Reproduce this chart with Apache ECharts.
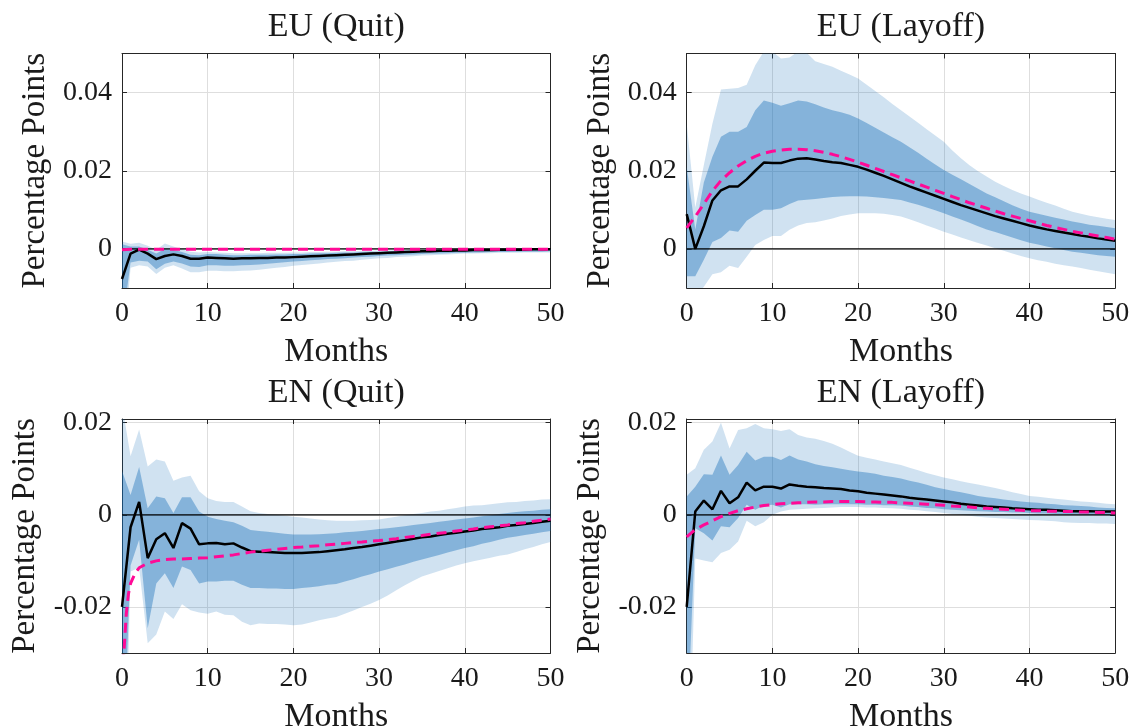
<!DOCTYPE html>
<html><head><meta charset="utf-8">
<script src="https://cdn.jsdelivr.net/npm/echarts@6/dist/echarts.min.js"></script>
<style>html,body{margin:0;padding:0;background:#fff}#c{width:1133px;height:727px}</style>
</head><body><div id="c"></div>
<script>
// ---------- data ----------
const months = [0,1,2,3,4,5,6,7,8,9,10,11,12,13,14,15,16,17,18,19,20,21,22,23,24,25,26,27,28,29,30,31,32,33,34,35,36,37,38,39,40,41,42,43,44,45,46,47,48,49,50];
const titles = ['EU (Quit)', 'EU (Layoff)', 'EN (Quit)', 'EN (Layoff)'];
const topTicks = [0, 0.02, 0.04];
const bottomTicks = [-0.02, 0, 0.02];
const zeroLevel = 0;

// EU (Quit)
const euQuitMed = [-0.0077,-0.0012,-0.0002,-0.0012,-0.0026,-0.0018,-0.0014,-0.0018,-0.0025,-0.0025,
 -0.0022,-0.0023,-0.0024,-0.0025,-0.0024,-0.0024,-0.0023,-0.0023,-0.0022,-0.0022,
 -0.0021,-0.0020,-0.0019,-0.0018,-0.0017,-0.0016,-0.0015,-0.0014,-0.0013,-0.0012,
 -0.0011,-0.0010,-0.0009,-0.0008,-0.0007,-0.0006,-0.0006,-0.0005,-0.0005,-0.0004,
 -0.0004,-0.0003,-0.0003,-0.0003,-0.0002,-0.0002,-0.0002,-0.0002,-0.0001,-0.0001,-0.0001];
const euQuitModel = [-0.0002,-0.0001,-0.0001,-0.0001,-0.0001,-0.0001,-0.0001,-0.0001,-0.0001,-0.0001,
 -0.0001,-0.0001,-0.0001,-0.0001,-0.0001,-0.0001,-0.0001,-0.0001,-0.0001,-0.0001,
 -0.0001,-0.0001,-0.0001,-0.0001,-0.0001,-0.0001,-0.0001,-0.0001,-0.0001,-0.0001,
 -0.0001,-0.0001,-0.0001,-0.0001,-0.0001,-0.0001,-0.0001,-0.0001,-0.0001,-0.0001,
 -0.0001,-0.0001,-0.0001,-0.0001,-0.0001,-0.0001,-0.0001,-0.0001,-0.0001,-0.0001,-0.0001];
const euQuitInHi = [0.0012,0.0006,0.0006,-0.0002,-0.0012,0.0000,-0.0003,-0.0008,-0.0015,-0.0016,
 -0.0013,-0.0013,-0.0015,-0.0016,-0.0016,-0.0015,-0.0015,-0.0015,-0.0014,-0.0014,
 -0.0013,-0.0013,-0.0012,-0.0011,-0.0011,-0.0010,-0.0009,-0.0009,-0.0008,-0.0007,
 -0.0007,-0.0006,-0.0005,-0.0005,-0.0004,-0.0004,-0.0003,-0.0003,-0.0002,-0.0002,
 -0.0002,-0.0001,-0.0001,-0.0001,-0.0001,-0.0001,0.0000,0.0000,0.0000,0.0000,0.0000];
const euQuitInLo = [-0.0200,-0.0035,-0.0030,-0.0032,-0.0052,-0.0038,-0.0032,-0.0037,-0.0045,-0.0046,
 -0.0042,-0.0042,-0.0043,-0.0043,-0.0042,-0.0041,-0.0040,-0.0038,-0.0036,-0.0034,
 -0.0032,-0.0031,-0.0029,-0.0028,-0.0026,-0.0025,-0.0024,-0.0022,-0.0021,-0.0020,
 -0.0018,-0.0017,-0.0016,-0.0015,-0.0014,-0.0013,-0.0012,-0.0012,-0.0011,-0.0010,
 -0.0010,-0.0009,-0.0009,-0.0008,-0.0008,-0.0008,-0.0007,-0.0007,-0.0007,-0.0007,-0.0006];
const euQuitOutHi = [0.0019,0.0013,0.0016,0.0008,-0.0002,0.0014,0.0006,-0.0001,-0.0007,-0.0009,
 -0.0008,-0.0009,-0.0010,-0.0011,-0.0011,-0.0011,-0.0011,-0.0010,-0.0010,-0.0010,
 -0.0009,-0.0009,-0.0008,-0.0008,-0.0007,-0.0007,-0.0006,-0.0006,-0.0005,-0.0005,
 -0.0004,-0.0004,-0.0003,-0.0003,-0.0002,-0.0002,-0.0001,-0.0001,-0.0001,0.0000,
 0.0000,0.0000,0.0000,0.0000,0.0001,0.0001,0.0001,0.0001,0.0001,0.0001,0.0001];
const euQuitOutLo = [-0.0300,-0.0048,-0.0042,-0.0045,-0.0064,-0.0048,-0.0042,-0.0050,-0.0060,-0.0060,
 -0.0056,-0.0056,-0.0057,-0.0057,-0.0056,-0.0055,-0.0053,-0.0051,-0.0048,-0.0046,
 -0.0043,-0.0041,-0.0039,-0.0037,-0.0035,-0.0033,-0.0031,-0.0030,-0.0028,-0.0026,
 -0.0024,-0.0023,-0.0021,-0.0020,-0.0019,-0.0017,-0.0016,-0.0015,-0.0014,-0.0013,
 -0.0012,-0.0012,-0.0011,-0.0011,-0.0010,-0.0010,-0.0010,-0.0009,-0.0009,-0.0009,-0.0009];

// EU (Layoff)
const euLayMed = [0.0089,0.0000,0.0058,0.0124,0.0150,0.0160,0.0160,0.0178,0.0200,0.0221,
 0.0220,0.0220,0.0226,0.0231,0.0232,0.0229,0.0225,0.0222,0.0220,0.0215,
 0.0210,0.0203,0.0195,0.0187,0.0178,0.0169,0.0160,0.0152,0.0144,0.0136,
 0.0128,0.0120,0.0112,0.0105,0.0098,0.0091,0.0084,0.0078,0.0072,0.0066,
 0.0060,0.0055,0.0050,0.0046,0.0042,0.0038,0.0034,0.0031,0.0027,0.0024,0.0021];
const euLayModel = [0.0054,0.0083,0.0115,0.0148,0.0175,0.0195,0.0212,0.0226,0.0237,0.0245,
 0.0250,0.0253,0.0255,0.0255,0.0254,0.0251,0.0247,0.0242,0.0236,0.0229,
 0.0222,0.0214,0.0206,0.0198,0.0190,0.0182,0.0174,0.0166,0.0158,0.0150,
 0.0142,0.0134,0.0126,0.0118,0.0111,0.0104,0.0097,0.0090,0.0084,0.0078,
 0.0072,0.0066,0.0060,0.0055,0.0050,0.0045,0.0041,0.0037,0.0033,0.0029,0.0025];
const euLayInHi = [0.0210,0.0050,0.0170,0.0236,0.0287,0.0300,0.0300,0.0312,0.0355,0.0380,
 0.0374,0.0366,0.0373,0.0380,0.0377,0.0370,0.0362,0.0355,0.0350,0.0343,
 0.0334,0.0322,0.0310,0.0298,0.0286,0.0274,0.0260,0.0246,0.0231,0.0216,
 0.0202,0.0190,0.0178,0.0166,0.0154,0.0142,0.0132,0.0122,0.0112,0.0103,
 0.0095,0.0090,0.0085,0.0080,0.0075,0.0070,0.0066,0.0062,0.0059,0.0056,0.0053];
const euLayInLo = [-0.0070,-0.0070,-0.0028,0.0018,0.0028,0.0047,0.0044,0.0072,0.0087,0.0100,
 0.0100,0.0104,0.0115,0.0124,0.0126,0.0128,0.0130,0.0133,0.0134,0.0135,
 0.0135,0.0134,0.0132,0.0130,0.0128,0.0125,0.0119,0.0113,0.0106,0.0099,
 0.0091,0.0083,0.0075,0.0067,0.0058,0.0050,0.0043,0.0036,0.0029,0.0022,
 0.0016,0.0011,0.0006,0.0002,-0.0003,-0.0007,-0.0010,-0.0013,-0.0016,-0.0018,-0.0020];
const euLayOutHi = [0.0320,0.0106,0.0215,0.0320,0.0408,0.0410,0.0412,0.0420,0.0470,0.0505,
 0.0505,0.0487,0.0490,0.0505,0.0502,0.0480,0.0473,0.0466,0.0456,0.0446,
 0.0436,0.0420,0.0404,0.0388,0.0371,0.0355,0.0339,0.0323,0.0306,0.0290,
 0.0274,0.0252,0.0232,0.0214,0.0199,0.0185,0.0172,0.0161,0.0151,0.0142,
 0.0134,0.0126,0.0118,0.0111,0.0103,0.0095,0.0090,0.0085,0.0081,0.0077,0.0074];
const euLayOutLo = [-0.0130,-0.0125,-0.0097,-0.0065,-0.0060,-0.0043,-0.0049,-0.0020,0.0010,0.0023,
 0.0033,0.0033,0.0049,0.0060,0.0066,0.0068,0.0073,0.0078,0.0084,0.0088,
 0.0091,0.0091,0.0091,0.0090,0.0087,0.0083,0.0076,0.0068,0.0060,0.0052,
 0.0044,0.0037,0.0029,0.0022,0.0015,0.0009,0.0002,-0.0005,-0.0012,-0.0018,
 -0.0024,-0.0029,-0.0033,-0.0038,-0.0042,-0.0045,-0.0049,-0.0053,-0.0057,-0.0061,-0.0065];

// EN (Quit)
const enQuitMed = [-0.0200,-0.0027,0.0028,-0.0094,-0.0053,-0.0040,-0.0072,-0.0018,-0.0030,-0.0064,
 -0.0062,-0.0061,-0.0064,-0.0062,-0.0071,-0.0079,-0.0080,-0.0081,-0.0082,-0.0083,
 -0.0083,-0.0083,-0.0082,-0.0081,-0.0079,-0.0077,-0.0075,-0.0072,-0.0070,-0.0067,
 -0.0064,-0.0061,-0.0058,-0.0055,-0.0052,-0.0049,-0.0047,-0.0044,-0.0041,-0.0039,
 -0.0036,-0.0034,-0.0031,-0.0029,-0.0027,-0.0024,-0.0022,-0.0020,-0.0018,-0.0015,-0.0013];
const enQuitModelX = [0,0.25,0.5,0.75,1,1.5,2,3,4,5,6,7,8,9,10,11,12,13,14,15,16,17,18,19,20,21,22,23,24,25,26,27,28,29,30,31,32,33,34,35,36,37,38,39,40,41,42,43,44,45,46,47,48,49,50];
const enQuitModel = [-0.0360,-0.0290,-0.0215,-0.0172,-0.0149,-0.0128,-0.0115,-0.0105,-0.0100,-0.0097,
 -0.0096,-0.0096,-0.0095,-0.0094,-0.0093,-0.0091,-0.0089,-0.0087,-0.0084,-0.0081,
 -0.0079,-0.0077,-0.0075,-0.0073,-0.0071,-0.0070,-0.0068,-0.0067,-0.0065,-0.0064,
 -0.0062,-0.0060,-0.0059,-0.0057,-0.0056,-0.0054,-0.0052,-0.0049,-0.0047,-0.0045,
 -0.0042,-0.0040,-0.0038,-0.0035,-0.0033,-0.0031,-0.0028,-0.0026,-0.0024,-0.0022,
 -0.0019,-0.0017,-0.0014,-0.0012,-0.0009];
const enQuitInHi = [0.0095,0.0043,0.0104,0.0014,0.0040,0.0036,0.0004,0.0038,0.0038,0.0007,
 -0.0004,-0.0009,-0.0013,-0.0016,-0.0024,-0.0033,-0.0035,-0.0037,-0.0039,-0.0041,
 -0.0043,-0.0043,-0.0043,-0.0042,-0.0041,-0.0040,-0.0038,-0.0037,-0.0035,-0.0033,
 -0.0031,-0.0029,-0.0027,-0.0025,-0.0022,-0.0020,-0.0018,-0.0015,-0.0013,-0.0010,
 -0.0008,-0.0006,-0.0003,-0.0001,0.0002,0.0004,0.0006,0.0008,0.0009,0.0011,0.0012];
const enQuitInLo = [-0.0600,-0.0110,-0.0054,-0.0246,-0.0149,-0.0127,-0.0159,-0.0112,-0.0120,-0.0149,
 -0.0145,-0.0145,-0.0143,-0.0143,-0.0152,-0.0159,-0.0159,-0.0160,-0.0160,-0.0161,
 -0.0161,-0.0159,-0.0157,-0.0155,-0.0152,-0.0150,-0.0145,-0.0140,-0.0134,-0.0129,
 -0.0123,-0.0118,-0.0113,-0.0108,-0.0102,-0.0097,-0.0092,-0.0087,-0.0082,-0.0077,
 -0.0072,-0.0068,-0.0063,-0.0059,-0.0054,-0.0050,-0.0047,-0.0044,-0.0041,-0.0038,-0.0035];
const enQuitOutHi = [0.0240,0.0127,0.0185,0.0105,0.0120,0.0116,0.0074,0.0081,0.0085,0.0051,
 0.0036,0.0030,0.0028,0.0028,0.0018,0.0008,0.0004,0.0002,0.0000,-0.0002,
 -0.0004,-0.0006,-0.0008,-0.0010,-0.0012,-0.0013,-0.0013,-0.0013,-0.0012,-0.0011,
 -0.0010,-0.0007,-0.0004,-0.0001,0.0002,0.0004,0.0007,0.0009,0.0012,0.0015,
 0.0018,0.0020,0.0021,0.0023,0.0025,0.0027,0.0028,0.0030,0.0031,0.0033,0.0034];
const enQuitOutLo = [-0.0880,-0.0123,-0.0115,-0.0279,-0.0260,-0.0210,-0.0226,-0.0194,-0.0207,-0.0212,
 -0.0215,-0.0210,-0.0217,-0.0218,-0.0232,-0.0240,-0.0236,-0.0237,-0.0237,-0.0238,
 -0.0240,-0.0238,-0.0234,-0.0229,-0.0225,-0.0222,-0.0215,-0.0208,-0.0200,-0.0193,
 -0.0185,-0.0175,-0.0164,-0.0153,-0.0143,-0.0134,-0.0128,-0.0122,-0.0116,-0.0110,
 -0.0105,-0.0101,-0.0097,-0.0093,-0.0089,-0.0086,-0.0081,-0.0075,-0.0070,-0.0064,-0.0059];

// EN (Layoff)
const enLayMed = [-0.0200,0.0007,0.0031,0.0012,0.0052,0.0025,0.0038,0.0070,0.0053,0.0061,
 0.0061,0.0057,0.0066,0.0063,0.0061,0.0060,0.0058,0.0057,0.0056,0.0053,
 0.0051,0.0048,0.0046,0.0044,0.0042,0.0040,0.0037,0.0035,0.0033,0.0031,
 0.0029,0.0027,0.0024,0.0022,0.0020,0.0018,0.0017,0.0016,0.0014,0.0013,
 0.0012,0.0011,0.0011,0.0010,0.0009,0.0008,0.0008,0.0008,0.0007,0.0007,0.0007];
const enLayModel = [-0.0048,-0.0032,-0.0022,-0.0013,-0.0004,0.0003,0.0009,0.0013,0.0017,0.0020,
 0.0022,0.0024,0.0025,0.0026,0.0027,0.0028,0.0028,0.0029,0.0029,0.0029,
 0.0029,0.0028,0.0028,0.0027,0.0027,0.0026,0.0025,0.0024,0.0023,0.0022,
 0.0021,0.0019,0.0018,0.0017,0.0015,0.0014,0.0013,0.0012,0.0011,0.0010,
 0.0009,0.0009,0.0008,0.0008,0.0007,0.0007,0.0006,0.0006,0.0005,0.0005,0.0004];
const enLayInHi = [0.0040,0.0061,0.0088,0.0087,0.0129,0.0087,0.0108,0.0137,0.0118,0.0126,
 0.0126,0.0119,0.0129,0.0120,0.0116,0.0110,0.0106,0.0103,0.0100,0.0097,
 0.0094,0.0092,0.0089,0.0085,0.0082,0.0079,0.0074,0.0070,0.0065,0.0060,
 0.0056,0.0052,0.0049,0.0045,0.0041,0.0038,0.0036,0.0033,0.0031,0.0029,
 0.0027,0.0026,0.0024,0.0023,0.0021,0.0020,0.0019,0.0018,0.0016,0.0015,0.0014];
const enLayInLo = [-0.0500,-0.0029,-0.0040,-0.0056,-0.0025,-0.0027,-0.0007,0.0022,0.0011,0.0020,
 0.0022,0.0016,0.0023,0.0023,0.0023,0.0022,0.0023,0.0023,0.0023,0.0023,
 0.0023,0.0022,0.0022,0.0021,0.0021,0.0020,0.0018,0.0017,0.0015,0.0014,
 0.0012,0.0011,0.0010,0.0009,0.0008,0.0007,0.0006,0.0006,0.0005,0.0005,
 0.0004,0.0003,0.0003,0.0002,0.0002,0.0001,0.0001,0.0000,0.0000,-0.0001,-0.0001];
const enLayOutHi = [0.0087,0.0101,0.0141,0.0159,0.0200,0.0144,0.0184,0.0188,0.0197,0.0188,
 0.0186,0.0182,0.0186,0.0173,0.0168,0.0165,0.0160,0.0154,0.0146,0.0137,
 0.0128,0.0124,0.0120,0.0116,0.0112,0.0108,0.0102,0.0097,0.0091,0.0086,
 0.0081,0.0077,0.0073,0.0069,0.0066,0.0062,0.0058,0.0054,0.0049,0.0045,
 0.0041,0.0039,0.0037,0.0035,0.0033,0.0031,0.0029,0.0028,0.0026,0.0024,0.0023];
const enLayOutLo = [-0.0740,-0.0095,-0.0099,-0.0103,-0.0083,-0.0076,-0.0058,-0.0013,-0.0025,-0.0016,
 0.0000,0.0007,0.0011,0.0012,0.0013,0.0014,0.0015,0.0016,0.0017,0.0017,
 0.0017,0.0016,0.0016,0.0015,0.0014,0.0013,0.0011,0.0010,0.0008,0.0006,
 0.0004,0.0002,0.0000,-0.0002,-0.0004,-0.0006,-0.0007,-0.0008,-0.0009,-0.0010,
 -0.0011,-0.0012,-0.0013,-0.0014,-0.0016,-0.0017,-0.0018,-0.0018,-0.0019,-0.0019,-0.0020];

// ---------- layout / style ----------
const FONT = 'Liberation Serif';
const AXIS = '#262626', GRIDC = '#dedede', TXT = '#1a1a1a';
const LIGHT = 'rgba(20,110,185,0.2)', DARK = 'rgba(20,110,185,0.4)', PINK = '#ff0a96';

const panels = [
  {title: titles[0], left: 122,   top: 53.5, h: 234.5, ymin: -0.01, ymax: 0.05,   ticks: topTicks,
   med: euQuitMed, modelX: months, model: euQuitModel, inLo: euQuitInLo, inHi: euQuitInHi, outLo: euQuitOutLo, outHi: euQuitOutHi, yGap: 70},
  {title: titles[1], left: 686.7, top: 53.5, h: 234.5, ymin: -0.01, ymax: 0.05,   ticks: topTicks,
   med: euLayMed, modelX: months, model: euLayModel, inLo: euLayInLo, inHi: euLayInHi, outLo: euLayOutLo, outHi: euLayOutHi, yGap: 70},
  {title: titles[2], left: 122,   top: 419,  h: 234,   ymin: -0.03, ymax: 0.0208, ticks: bottomTicks,
   med: enQuitMed, modelX: enQuitModelX, model: enQuitModel, inLo: enQuitInLo, inHi: enQuitInHi, outLo: enQuitOutLo, outHi: enQuitOutHi, yGap: 80},
  {title: titles[3], left: 686.7, top: 419,  h: 234,   ymin: -0.03, ymax: 0.0208, ticks: bottomTicks,
   med: enLayMed, modelX: months, model: enLayModel, inLo: enLayInLo, inHi: enLayInHi, outLo: enLayOutLo, outHi: enLayOutHi, yGap: 80}
];
const W = 428.5;

const fmt = v => v === 0 ? '0' : (v < 0 ? '-' : '') + Math.abs(v).toFixed(2);

function band(k, lo, hi, color, z) {
  return {
    type: 'custom', xAxisIndex: 2*k, yAxisIndex: 2*k, clip: true, silent: true, z: z,
    data: months.map((m, i) => [m, lo[i], hi[i]]),
    encode: {x: 0, y: [1, 2]},
    renderItem: function (params, api) {
      if (params.dataIndex !== 0) return null;
      const n = lo.length, up = [], dn = [];
      for (let j = 0; j < n; j++) {
        up.push(api.coord([api.value(0, j), api.value(2, j)]));
        dn.push(api.coord([api.value(0, j), api.value(1, j)]));
      }
      return {type: 'polygon', shape: {points: up.concat(dn.reverse())}, style: {fill: color}};
    }
  };
}

const option = {animation: false, backgroundColor: '#fff', title: [], grid: [], xAxis: [], yAxis: [], series: []};

panels.forEach((p, k) => {
  option.title.push({text: p.title, left: p.left + W/2 - 5, top: p.top - 48, textAlign: 'center',
    textStyle: {fontFamily: FONT, fontSize: 34, fontWeight: 'normal', color: TXT}});
  option.grid.push({left: p.left, top: p.top, width: W, height: p.h, containLabel: false, outerBoundsMode: 'none'});
  const axLine = {show: true, onZero: false, lineStyle: {color: AXIS, width: 1}};
  const tick = {show: true, inside: true, length: 5, lineStyle: {color: AXIS, width: 1}};
  option.xAxis.push({type: 'value', gridIndex: k, min: 0, max: 50, interval: 10, position: 'bottom',
    axisLine: axLine, axisTick: tick,
    axisLabel: {show: true, margin: 12, fontFamily: FONT, fontSize: 28, color: TXT},
    splitLine: {show: true, lineStyle: {color: GRIDC, width: 1}},
    name: 'Months', nameLocation: 'middle', nameGap: 47,
    nameTextStyle: {fontFamily: FONT, fontSize: 34, color: TXT}});
  option.xAxis.push({type: 'value', gridIndex: k, min: 0, max: 50, interval: 10, position: 'top',
    axisLine: axLine, axisTick: tick, axisLabel: {show: false}, splitLine: {show: false}});
  option.yAxis.push({type: 'value', gridIndex: k, min: p.ymin, max: p.ymax, position: 'left',
    axisLine: axLine, axisTick: Object.assign({customValues: p.ticks}, tick),
    axisLabel: {show: true, customValues: p.ticks, formatter: fmt, margin: 10, fontFamily: FONT, fontSize: 28, color: TXT},
    splitLine: {show: true, lineStyle: {color: GRIDC, width: 1}},
    name: 'Percentage Points', nameLocation: 'middle', nameGap: p.yGap,
    nameTextStyle: {fontFamily: FONT, fontSize: 33, color: TXT}});
  option.yAxis.push({type: 'value', gridIndex: k, min: p.ymin, max: p.ymax, position: 'right',
    axisLine: axLine, axisTick: Object.assign({customValues: p.ticks}, tick),
    axisLabel: {show: false}, splitLine: {show: false}});

  option.series.push(band(k, p.outLo, p.outHi, LIGHT, 1));
  option.series.push(band(k, p.inLo, p.inHi, DARK, 2));
  option.series.push({type: 'line', xAxisIndex: 2*k, yAxisIndex: 2*k, z: 3, silent: true,
    data: [[months[0], zeroLevel], [months[months.length-1], zeroLevel]],
    showSymbol: false, symbol: 'none', lineStyle: {color: '#000', width: 1.2}});
  option.series.push({type: 'line', xAxisIndex: 2*k, yAxisIndex: 2*k, z: 4, silent: true, clip: true,
    data: months.map((m, i) => [m, p.med[i]]),
    showSymbol: false, symbol: 'none', lineStyle: {color: '#000', width: 2.5}});
  option.series.push({type: 'line', xAxisIndex: 2*k, yAxisIndex: 2*k, z: 5, silent: true, clip: true,
    data: p.modelX.map((m, i) => [m, p.model[i]]),
    showSymbol: false, symbol: 'none', lineStyle: {color: PINK, width: 3, type: [10, 6]}});
});

const chart = echarts.init(document.getElementById('c'), null, {renderer: 'canvas'});
chart.setOption(option);
</script>
</body></html>
